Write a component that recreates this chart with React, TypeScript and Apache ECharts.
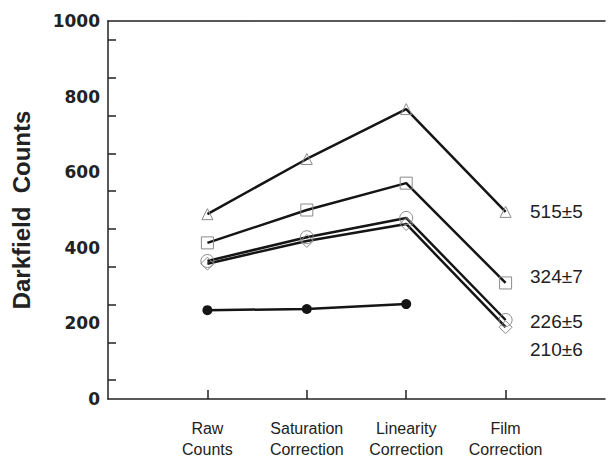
import React, { useEffect, useRef } from "react";
import * as echarts from "echarts";

const categories = ["Raw\nCounts", "Saturation\nCorrection", "Linearity\nCorrection", "Film\nCorrection"];
const triangleSeries = [489, 635, 767, 495];
const squareSeries = [413, 500, 571, 307];
const circleSeries = [365, 428, 479, 209];
const diamondSeries = [358, 418, 463, 190];
const filledSeries = [235, 238, 251, null];
const endLabels = ["515±5", "324±7", "226±5", "210±6"];
const yTickLabels = [0, 200, 400, 600, 800, 1000];

const pad = (arr: (number | null)[]) => [null, ...arr, null];

export default function App() {
  const ref = useRef<HTMLDivElement>(null);
  useEffect(() => {
    if (!ref.current) return;
    const chart = echarts.init(ref.current, null, { renderer: "svg" });
    const lineStyle = { color: "#151515", width: 2.5 };
    const hollow = { color: "rgba(255,255,255,0)", borderColor: "#8a8a8a", borderWidth: 1 };
    const xCats = ["", ...categories, ""];
    const labelY = [212, 277, 322, 350];
    chart.setOption({
      animation: false,
      backgroundColor: "#ffffff",
      grid: { left: 108, right: 0, top: 21, bottom: 64 },
      xAxis: [
        {
          type: "category",
          data: xCats,
          boundaryGap: false,
          axisLine: { lineStyle: { color: "#222", width: 1.5 } },
          axisTick: {
            inside: true,
            length: 9,
            alignWithLabel: true,
            interval: (i: number) => i > 0 && i < xCats.length - 1,
            lineStyle: { color: "#222", width: 1.5 },
          },
          axisLabel: {
            interval: 0,
            margin: 19,
            fontFamily: "Liberation Sans",
            fontSize: 16,
            lineHeight: 21,
            color: "#222",
          },
        },
        {
          type: "category",
          data: xCats,
          position: "top",
          boundaryGap: false,
          axisLine: { show: true, lineStyle: { color: "#222", width: 1.5 } },
          axisTick: { show: false },
          axisLabel: { show: false },
        },
      ],
      yAxis: {
        type: "value",
        min: 0,
        max: 1000,
        interval: 100,
        name: "Darkfield  Counts",
        nameLocation: "middle",
        nameGap: 75,
        nameTextStyle: { fontFamily: "Liberation Sans", fontWeight: "bold", fontSize: 24, color: "#222" },
        axisLine: { show: true, lineStyle: { color: "#222", width: 1.5 } },
        axisTick: { inside: true, length: 13, lineStyle: { color: "#222", width: 1.5 } },
        minorTick: { show: true, splitNumber: 2, length: 8, lineStyle: { color: "#222", width: 1.5 } },
        splitLine: { show: false },
        axisLabel: {
          margin: 8,
          fontFamily: "DejaVu Sans",
          fontWeight: "bold",
          fontSize: 17,
          color: "#222",
          formatter: (v: number) => (yTickLabels.includes(v) ? String(v) : ""),
        },
      },
      series: [
        { type: "line", data: pad(triangleSeries), symbol: "triangle", symbolSize: 11, lineStyle, itemStyle: hollow },
        { type: "line", data: pad(squareSeries), symbol: "rect", symbolSize: 12, lineStyle, itemStyle: hollow },
        { type: "line", data: pad(circleSeries), symbol: "circle", symbolSize: 13, lineStyle, itemStyle: hollow },
        { type: "line", data: pad(diamondSeries), symbol: "diamond", symbolSize: 13, lineStyle, itemStyle: hollow },
        {
          type: "line",
          data: pad(filledSeries),
          symbol: "circle",
          symbolSize: 10,
          lineStyle,
          itemStyle: { color: "#151515" },
        },
      ],
      graphic: endLabels.map((t, i) => ({
        type: "text",
        left: 530,
        top: labelY[i] - 10,
        style: { text: t, fontFamily: "Liberation Sans", fontSize: 19, fill: "#222" },
      })),
    });
    return () => chart.dispose();
  }, []);
  return (
    <div
      ref={ref}
      style={{ position: "fixed", left: 0, top: 0, width: 608, height: 463, background: "#fff" }}
    />
  );
}
